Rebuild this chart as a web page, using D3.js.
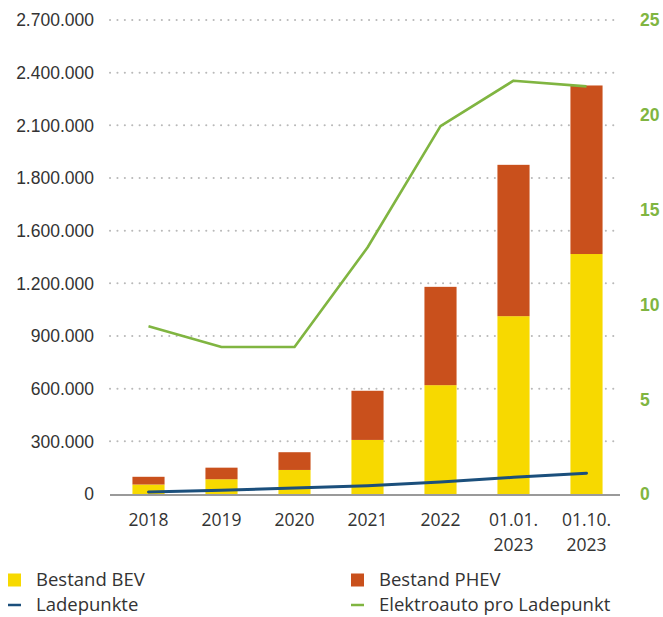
<!DOCTYPE html>
<html>
<head>
<meta charset="utf-8">
<script src="https://cdn.jsdelivr.net/npm/d3@7"></script>
<style>
  html, body { margin: 0; padding: 0; background: #fff; }
  svg { display: block; font-family: "Open Sans", "Noto Sans", sans-serif; }
</style>
</head>
<body>
<svg id="chart" width="663" height="617"></svg>
<script>
// Stichtage
const categories = ["2018", "2019", "2020", "2021", "2022", "01.01. 2023", "01.10. 2023"];
// Fahrzeugbestand (linke Achse)
const bestandBEV  = [54000, 84000, 137000, 308000, 620000, 1013000, 1367000];
const bestandPHEV = [44000, 66000, 101000, 280000, 560000, 862000, 960000];
// Öffentliche Ladepunkte (linke Achse)
const ladepunkte = [11000, 21000, 34000, 47000, 68000, 95000, 118000];
// Elektroautos pro Ladepunkt (rechte Achse)
const autosProLadepunkt = [8.85, 7.75, 7.75, 13.0, 19.4, 21.8, 21.5];

// Achsenbeschriftungen
const leftTicks = [0, 300000, 600000, 900000, 1200000, 1500000, 1800000, 2100000, 2400000, 2700000];
const leftTickLabels = ["0", "300.000", "600.000", "900.000", "1.200.000", "1.600.000", "1.800.000", "2.100.000", "2.400.000", "2.700.000"];
const rightTicks = [0, 5, 10, 15, 20, 25];

const seriesNames = ["Bestand BEV", "Bestand PHEV", "Ladepunkte", "Elektroauto pro Ladepunkt"];
const colors = {
  bev: "#f7d900",
  phev: "#c9501c",
  lade: "#1b4f7c",
  ratio: "#80b541",
  grid: "#b9b9b9",
  axis: "#9a9a9a",
  text: "#333333"
};

const svg = d3.select("#chart");

const plotLeft = 110, plotRight = 620, plotTop = 20, plotBottom = 494;

const x = d3.scaleBand()
  .domain(categories)
  .range([112, 623])
  .paddingInner(0.56)
  .paddingOuter(0.28);

const yLeft = d3.scaleLinear().domain([0, 2700000]).range([plotBottom, plotTop]);
const yRight = d3.scaleLinear().domain([0, 25]).range([plotBottom, plotTop]);

// Gitterlinien (gepunktet)
svg.append("g")
  .selectAll("line")
  .data(leftTicks.filter(d => d > 0))
  .join("line")
  .attr("x1", plotLeft)
  .attr("x2", plotRight)
  .attr("y1", d => yLeft(d))
  .attr("y2", d => yLeft(d))
  .attr("stroke", colors.grid)
  .attr("stroke-width", 2)
  .attr("stroke-linecap", "round")
  .attr("stroke-dasharray", "0.1 7.3");

// Linke Achse
const leftAxis = svg.append("g")
  .attr("transform", `translate(${plotLeft - 16},0)`)
  .call(d3.axisLeft(yLeft).tickValues(leftTicks).tickFormat((d, i) => leftTickLabels[i]).tickSize(0).tickPadding(0));
leftAxis.select(".domain").remove();
leftAxis.selectAll("text")
  .attr("fill", colors.text)
  .style("font-size", "17.5px")
  .attr("dy", "0.34em");

// Rechte Achse
const rightAxis = svg.append("g")
  .attr("transform", `translate(${plotRight + 20},0)`)
  .call(d3.axisRight(yRight).tickValues(rightTicks).tickFormat(d3.format("d")).tickSize(0).tickPadding(0));
rightAxis.select(".domain").remove();
rightAxis.selectAll("text")
  .attr("fill", colors.ratio)
  .style("font-size", "17.5px")
  .style("font-weight", "700")
  .attr("dy", "0.34em");

// Gestapelte Säulen
const stackData = categories.map((c, i) => ({ cat: c, bev: bestandBEV[i], phev: bestandPHEV[i] }));
const stack = d3.stack().keys(["bev", "phev"])(stackData);
svg.append("g")
  .selectAll("g")
  .data(stack)
  .join("g")
  .attr("fill", d => colors[d.key])
  .selectAll("rect")
  .data(d => d)
  .join("rect")
  .attr("x", d => x(d.data.cat))
  .attr("width", x.bandwidth())
  .attr("y", d => yLeft(d[1]))
  .attr("height", d => yLeft(d[0]) - yLeft(d[1]));

// Grundlinie
svg.append("line")
  .attr("x1", plotLeft)
  .attr("x2", plotRight)
  .attr("y1", plotBottom + 1)
  .attr("y2", plotBottom + 1)
  .attr("stroke", colors.axis)
  .attr("stroke-width", 2);

// Linie: Elektroauto pro Ladepunkt
const cx = c => x(c) + x.bandwidth() / 2;
svg.append("path")
  .datum(autosProLadepunkt)
  .attr("fill", "none")
  .attr("stroke", colors.ratio)
  .attr("stroke-width", 2.6)
  .attr("stroke-linejoin", "round")
  .attr("d", d3.line().x((d, i) => cx(categories[i])).y(d => yRight(d)));

// Linie: Ladepunkte
svg.append("path")
  .datum(ladepunkte)
  .attr("fill", "none")
  .attr("stroke", colors.lade)
  .attr("stroke-width", 3)
  .attr("stroke-linecap", "round")
  .attr("stroke-linejoin", "round")
  .attr("d", d3.line().x((d, i) => cx(categories[i])).y(d => yLeft(d)));

// Kategorienbeschriftung
const xLabels = svg.append("g")
  .selectAll("text")
  .data(categories)
  .join("text")
  .attr("x", d => cx(d))
  .attr("y", 526)
  .attr("text-anchor", "middle")
  .attr("fill", colors.text)
  .style("font-size", "17.5px");
xLabels.each(function (d) {
  const parts = d.split(" ");
  d3.select(this).selectAll("tspan")
    .data(parts)
    .join("tspan")
    .attr("x", cx(d))
    .attr("dy", (p, i) => i === 0 ? 0 : 25)
    .text(p => p);
});

// Legende
const legendItems = [
  { name: seriesNames[0], color: colors.bev, type: "box", x: 8, y: 580 },
  { name: seriesNames[1], color: colors.phev, type: "box", x: 351, y: 580 },
  { name: seriesNames[2], color: colors.lade, type: "line", x: 8, y: 605 },
  { name: seriesNames[3], color: colors.ratio, type: "line", x: 351, y: 605 }
];
const legend = svg.append("g")
  .selectAll("g")
  .data(legendItems)
  .join("g")
  .attr("transform", d => `translate(${d.x},${d.y})`);
legend.filter(d => d.type === "box")
  .append("rect")
  .attr("x", 0).attr("y", -6.5).attr("width", 13).attr("height", 13)
  .attr("fill", d => d.color);
legend.filter(d => d.type === "line")
  .append("line")
  .attr("x1", 0).attr("x2", 13).attr("y1", 0).attr("y2", 0)
  .attr("stroke", d => d.color).attr("stroke-width", 2.5);
legend.append("text")
  .attr("x", 28)
  .attr("y", 0)
  .attr("dy", "0.35em")
  .attr("fill", colors.text)
  .style("font-size", "18.5px")
  .text(d => d.name);
</script>
</body>
</html>
